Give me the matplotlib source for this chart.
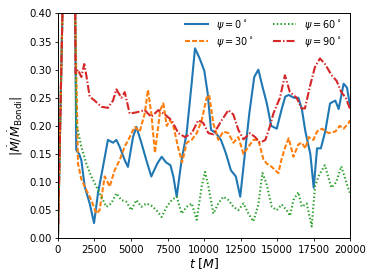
import numpy as np
import matplotlib
matplotlib.use("Agg")
from matplotlib import pyplot as plt

# initial spike shared by all runs (goes off the top of the axes)
t_spike = [0, 150, 320, 600, 900, 1180]
v_spike = [0.0, 0.2, 0.42, 0.9, 0.9, 0.40]

# psi = 0
t0 = [1250, 1450, 1600, 1830, 2170, 2470, 2740, 3080, 3420, 3770, 4000, 4220, 4570, 4790,
      5140, 5370, 5710, 6050, 6390, 6800, 7100, 7400, 7700, 7900, 8130, 8470, 8810, 9155,
      9383, 9700, 10020, 10250, 10480, 10820, 11160, 11500, 11840, 12180, 12480, 12750,
      13100, 13440, 13720, 14000, 14300, 14600, 14980, 15320, 15560, 15800, 16140, 16460,
      16700, 16940, 17280, 17510, 17740, 18000, 18300, 18630, 18990, 19220, 19560, 19790, 20000]
v0 = [0.157, 0.15, 0.139, 0.092, 0.062, 0.027, 0.08, 0.127, 0.175, 0.17, 0.175, 0.163, 0.139, 0.127,
      0.18, 0.198, 0.17, 0.139, 0.11, 0.133, 0.145, 0.135, 0.13, 0.11, 0.074, 0.14, 0.187, 0.276,
      0.338, 0.32, 0.298, 0.258, 0.193, 0.187, 0.175, 0.151, 0.121, 0.11, 0.074, 0.139,
      0.222, 0.287, 0.30, 0.27, 0.24, 0.20, 0.195, 0.23, 0.252, 0.255, 0.25, 0.25,
      0.23, 0.19, 0.15, 0.09, 0.16, 0.16, 0.19, 0.24, 0.245, 0.23, 0.275, 0.268, 0.235]

# psi = 30
t30 = [1370, 1600, 1940, 2280, 2630, 2850, 3200, 3540, 3880, 4220, 4570, 4910, 5250, 5600,
       5940, 6160, 6400, 6640, 7000, 7215, 7445, 7670, 7900, 8240, 8500, 8810, 9155, 9500,
       9840, 10180, 10350, 10640, 10980, 11325, 11670, 12010, 12350, 12700, 13040, 13380,
       13720, 14070, 14295, 14636, 15091, 15300, 15570, 15800, 16120, 16460, 16700, 16940,
       17170, 17490, 17740, 18080, 18540, 18990, 19300, 19560, 19900, 20000]
v30 = [0.133, 0.105, 0.086, 0.068, 0.044, 0.05, 0.11, 0.092, 0.121, 0.139, 0.163, 0.18, 0.198, 0.19,
       0.222, 0.264, 0.22, 0.152, 0.228, 0.24, 0.20, 0.21, 0.20, 0.16, 0.135, 0.17, 0.175, 0.187,
       0.21, 0.25, 0.255, 0.204, 0.175, 0.19, 0.187, 0.17, 0.18, 0.15, 0.163, 0.175,
       0.175, 0.14, 0.133, 0.127, 0.116, 0.14, 0.163, 0.178, 0.145, 0.167, 0.17, 0.16,
       0.18, 0.175, 0.19, 0.195, 0.187, 0.19, 0.20, 0.195, 0.205, 0.21]

# psi = 60
t60 = [1260, 1600, 1940, 2280, 2630, 2970, 3310, 3650, 4000, 4340, 4680, 5020, 5370, 5710,
       6050, 6390, 6740, 7100, 7445, 7785, 8130, 8470, 8810, 9155, 9500, 9840, 10070, 10300,
       10640, 10980, 11325, 11670, 12010, 12350, 12700, 13040, 13380, 13720, 14000, 14270,
       14640, 14980, 15320, 15660, 15890, 16120, 16460, 16690, 17030, 17375, 17600, 17830,
       18270, 18720, 19050, 19400, 19860, 20000]
v60 = [0.204, 0.163, 0.133, 0.11, 0.092, 0.074, 0.056, 0.062, 0.08, 0.068, 0.065, 0.05, 0.068, 0.056,
       0.062, 0.058, 0.05, 0.038, 0.056, 0.068, 0.074, 0.044, 0.056, 0.062, 0.033, 0.092, 0.118, 0.092,
       0.044, 0.062, 0.074, 0.068, 0.056, 0.05, 0.062, 0.044, 0.03, 0.06, 0.116, 0.098,
       0.056, 0.05, 0.06, 0.05, 0.04, 0.068, 0.082, 0.056, 0.062, 0.021, 0.092, 0.11,
       0.13, 0.09, 0.10, 0.128, 0.09, 0.08]

# psi = 90
t90 = [1200, 1370, 1600, 1800, 1940, 2170, 2510, 2970, 3420, 3770, 4000, 4340, 4570, 4910,
       5370, 5940, 6390, 6870, 7330, 7780, 8240, 8700, 9160, 9610, 9950, 10300, 10640, 11210,
       11670, 12010, 12350, 12700, 13150, 13500, 13840, 14200, 14520, 14750, 15200, 15540,
       15880, 16340, 16680, 16910, 17250, 17600, 17940, 18280, 18740, 19080, 19400, 19700, 20000]
v90 = [0.293, 0.30, 0.287, 0.31, 0.29, 0.252, 0.245, 0.234, 0.232, 0.245, 0.265, 0.25, 0.26, 0.222,
       0.224, 0.228, 0.216, 0.228, 0.22, 0.21, 0.187, 0.18, 0.187, 0.21, 0.205, 0.187, 0.185, 0.21,
       0.228, 0.22, 0.193, 0.176, 0.187, 0.18, 0.17, 0.175, 0.20, 0.222, 0.25, 0.29,
       0.26, 0.25, 0.231, 0.231, 0.27, 0.305, 0.32, 0.31, 0.29, 0.28, 0.26, 0.25, 0.23]

fig = plt.figure(figsize=(3.74, 2.80), dpi=100)
ax = fig.add_axes([0.155, 0.149, 0.781, 0.803])

# shorter dash patterns than the defaults
series = [
    (t0, v0, '-', 'C0', r'$\psi=0^\circ$'),
    (t30, v30, (0, (2.4, 1.0)), 'C1', r'$\psi=30^\circ$'),
    (t60, v60, (0, (0.7, 1.1)), 'C2', r'$\psi=60^\circ$'),
    (t90, v90, (0, (3.8, 1.0, 0.7, 1.0)), 'C3', r'$\psi=90^\circ$'),
]
for t, v, ls, c, lab in series:
    ax.plot(t_spike + t, v_spike + v, ls=ls, color=c, lw=1.5, label=lab)

ax.set_xlim(0, 20000)
ax.set_ylim(0, 0.4)
ax.set_xticks(np.arange(0, 20001, 2500))
ax.set_yticks(np.arange(0, 0.401, 0.05))
ax.tick_params(labelsize=7.3, length=2.5, width=0.6, pad=2)
for s in ax.spines.values():
    s.set_linewidth(0.7)
ax.set_xlabel(r'$t\ [M]$', fontsize=9, labelpad=1)
ax.set_ylabel(r'$|\dot{M}/\dot{M}_{\rm Bondi}|$', fontsize=9, labelpad=3)
ax.legend(ncol=2, loc='upper right', frameon=False, fontsize=7,
          handlelength=2.4, columnspacing=2.0, labelspacing=0.3,
          bbox_to_anchor=(1.0, 1.02))

fig.savefig('out.png', dpi=100)
